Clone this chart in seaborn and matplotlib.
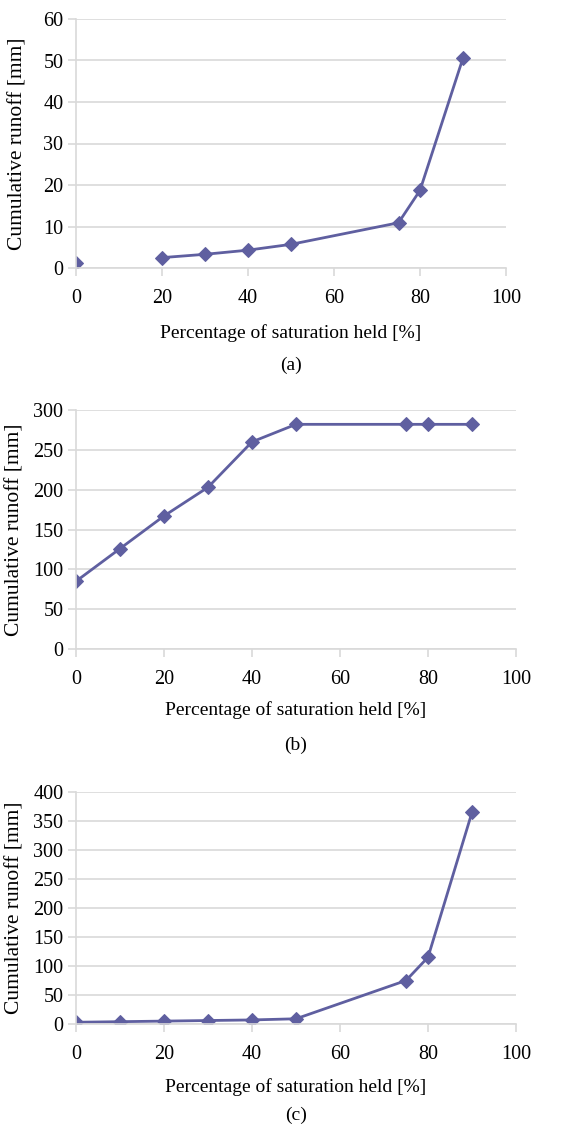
import numpy as np
import pandas as pd
import matplotlib
matplotlib.use("Agg")
import matplotlib.pyplot as plt
import seaborn as sns

# ---- data ----
x_a = [0, 10, 20, 30, 40, 50, 75, 80, 90]
y_a = [1.2, np.nan, 2.5, 3.3, 4.3, 5.7, 10.9, 18.7, 50.6]

x_b = [0, 10, 20, 30, 40, 50, 75, 80, 90]
y_b = [85, 126, 167, 203, 260, 282, 282, 282, 282]

x_c = [0, 10, 20, 30, 40, 50, 75, 80, 90]
y_c = [3, 4, 5, 6, 7, 9, 75, 115, 365]

panel_labels = ["(a)", "(b)", "(c)"]
xlabel = "Percentage of saturation held [%]"
ylabel = "Cumulative runoff [mm]"
y_limits = [(0, 60), (0, 300), (0, 400)]
y_steps = [10, 50, 50]

sns.set_theme(style="white")
plt.rcParams["font.family"] = ["Liberation Serif", "DejaVu Serif"]

LINE = "#5f5fa0"
GRID = "#d9d9d9"

fig = plt.figure(figsize=(5.83, 11.28), dpi=100)
W, H = 583, 1128
# (left, right, top, bottom, xlabel offset, panel label offset, ylabel x) in pixels
boxes = [
    (76, 506, 19, 268, 65, 97, 18),
    (76, 516, 410, 649, 61, 96, 15),
    (76, 516, 792, 1024, 63, 91, 15),
]

datasets = [(x_a, y_a), (x_b, y_b), (x_c, y_c)]

for i, ((xs, ys), (l, r, t, b, xo, po, yx)) in enumerate(zip(datasets, boxes)):
    ax = fig.add_axes([l / W, 1 - b / H, (r - l) / W, (b - t) / H])
    df = pd.DataFrame({"x": xs, "y": ys})
    df["seg"] = df["y"].isna().cumsum()
    df = df.dropna()
    for _, g in df.groupby("seg"):
        sns.lineplot(data=g, x="x", y="y", ax=ax, color=LINE, linewidth=2,
                     marker="D", markersize=7, markeredgecolor=LINE,
                     estimator=None, sort=False, legend=False)
    lo, hi = y_limits[i]
    ax.set_xlim(0, 100)
    ax.set_ylim(lo, hi)
    ax.set_xticks(range(0, 101, 20))
    ax.set_yticks(np.arange(lo, hi + 1, y_steps[i]))
    ax.grid(axis="y", color=GRID, linewidth=1.2)
    ax.grid(axis="x", visible=False)
    ax.set_axisbelow(True)
    for s in ["top", "right"]:
        ax.spines[s].set_visible(False)
    for s in ["left", "bottom"]:
        ax.spines[s].set_color(GRID)
        ax.spines[s].set_linewidth(1.2)
    ax.tick_params(axis="both", which="major", length=6, width=1.2, color=GRID,
                   labelsize=14.5, labelcolor="black", direction="out",
                   bottom=True, left=True, pad=3)
    ax.tick_params(axis="x", pad=9)
    h = b - t
    ax.set_xlabel(xlabel, fontsize=14, color="black")
    ax.xaxis.set_label_coords(0.5, -xo / h)
    ax.xaxis.label.set_va("center")
    ax.set_ylabel(ylabel, fontsize=15.5, color="black")
    ax.yaxis.set_label_coords(-(l - yx) / (r - l), 0.5)
    ax.yaxis.label.set_va("center")
    ax.text(0.5, -po / h, panel_labels[i], transform=ax.transAxes, ha="center",
            va="center", fontsize=14, color="black")

fig.savefig("out.png", dpi=100, facecolor="white")
